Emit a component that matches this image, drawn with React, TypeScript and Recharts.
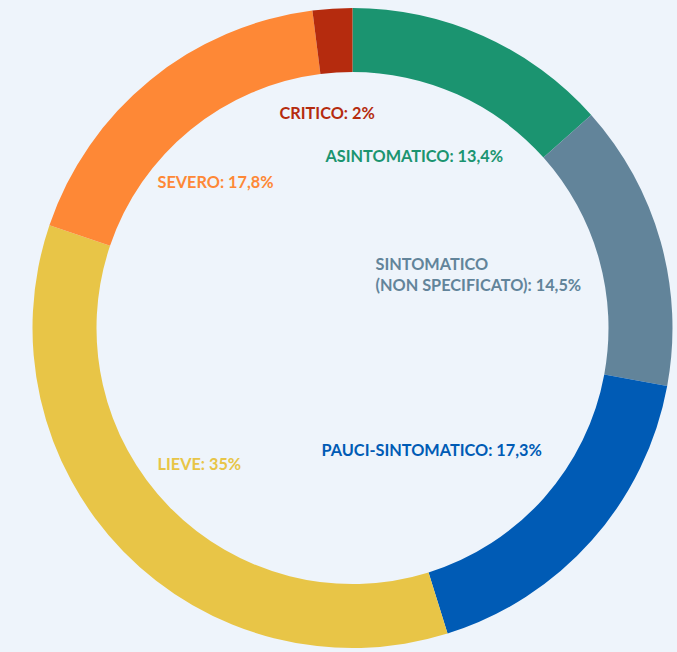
import React from "react";
import { PieChart, Pie, Cell } from "recharts";

const categories = ["ASINTOMATICO", "SINTOMATICO (NON SPECIFICATO)", "PAUCI-SINTOMATICO", "LIEVE", "SEVERO", "CRITICO"];
const values = [13.4, 14.5, 17.3, 35, 17.8, 2];
const valueLabels = ["13,4%", "14,5%", "17,3%", "35%", "17,8%", "2%"];
const labelLines: string[][] = [
  ["ASINTOMATICO: 13,4%"],
  ["SINTOMATICO", "(NON SPECIFICATO): 14,5%"],
  ["PAUCI-SINTOMATICO: 17,3%"],
  ["LIEVE: 35%"],
  ["SEVERO: 17,8%"],
  ["CRITICO: 2%"],
];
const colors = ["#1b9470", "#62849a", "#005bb5", "#e8c547", "#fe8836", "#b52b0e"];

// label anchor offsets relative to pie center (style, not data)
const labelOffsets = [
  [-27, -173],
  [23, -65],
  [-31, 121],
  [-195, 135],
  [-195, -147],
  [-73, -216],
];

const data = categories.map((c, i) => ({ name: c, value: values[i], label: valueLabels[i] }));

const renderLabel = (props: any) => {
  const { cx, cy, index } = props;
  const [dx, dy] = labelOffsets[index];
  const lines = labelLines[index];
  return (
    <text
      key={`l-${index}`}
      x={cx + dx}
      y={cy + dy}
      fill={colors[index]}
      fontFamily="Lato, 'Open Sans', sans-serif"
      fontWeight={700}
      fontSize={16.3}
      textAnchor="start"
      dominantBaseline="central"
    >
      {lines.map((ln, j) => (
        <tspan key={j} x={cx + dx} dy={j === 0 ? 0 : 21}>
          {ln}
        </tspan>
      ))}
    </text>
  );
};

export default function App() {
  return (
    <div style={{ position: "fixed", left: 0, top: 0, width: 677, height: 652, background: "#eef4fb" }}>
      <PieChart width={677} height={652} margin={{ top: 0, right: 0, bottom: 0, left: 0 }}>
        <Pie
          data={data}
          dataKey="value"
          nameKey="name"
          cx={352.5}
          cy={328}
          outerRadius={320}
          innerRadius={256}
          startAngle={90}
          endAngle={-270}
          stroke="none"
          labelLine={false}
          label={renderLabel}
          isAnimationActive={false}
        >
          {data.map((d, i) => (
            <Cell key={d.name} fill={colors[i]} />
          ))}
        </Pie>
      </PieChart>
    </div>
  );
}
